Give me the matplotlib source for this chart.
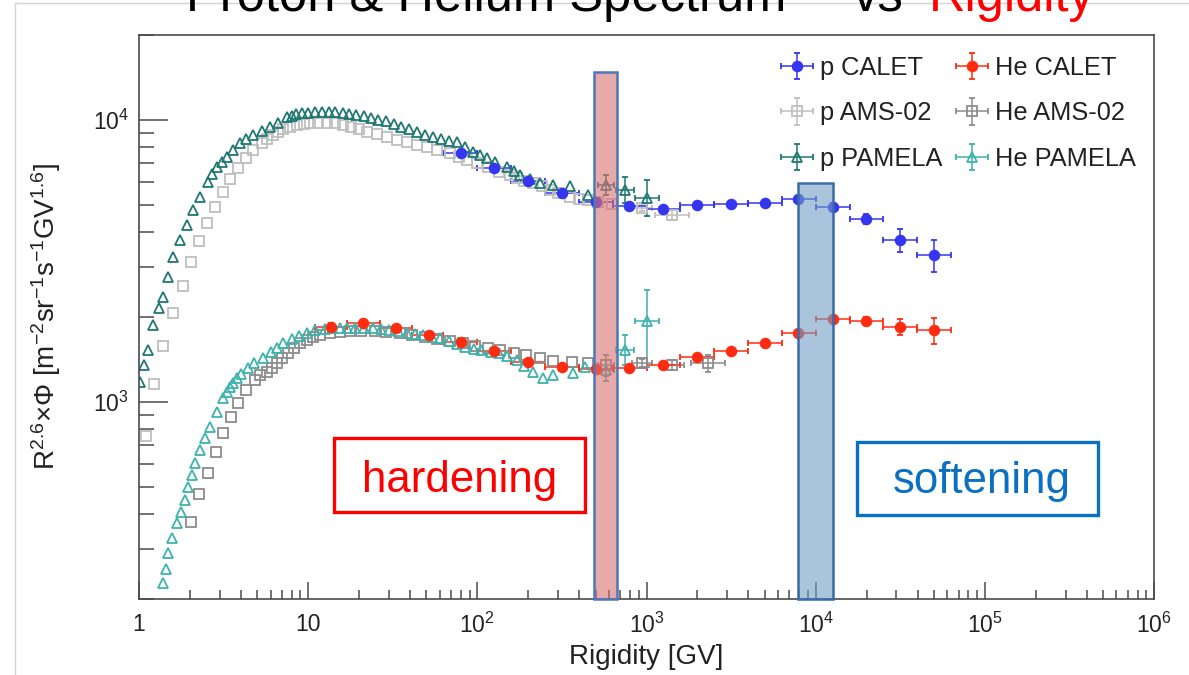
import numpy as np
import matplotlib
matplotlib.use('Agg')
import matplotlib.pyplot as plt
from matplotlib.patches import Rectangle
from matplotlib.lines import Line2D
from matplotlib.legend_handler import HandlerErrorbar
from matplotlib.ticker import FixedLocator, FixedFormatter, NullFormatter

plt.rcParams['font.family'] = ['Liberation Sans', 'DejaVu Sans']
plt.rcParams['mathtext.fontset'] = 'custom'
plt.rcParams['mathtext.rm'] = 'Liberation Sans'
plt.rcParams['mathtext.it'] = 'Liberation Sans:italic'
plt.rcParams['mathtext.bf'] = 'Liberation Sans:bold'

# ---- data (rigidity in GV, flux x R^2.6) ----
p_calet_edges = [63, 100, 158, 251, 398, 631, 1000, 1585, 2512, 3981, 6310,
                 10000, 15850, 25120, 39810, 63100]
p_calet_R = [80, 126, 200, 316, 505, 790, 1255, 1990, 3160, 5010, 7900,
             12600, 19900, 31500, 50400]
p_calet_F = [7612, 6734, 6057, 5493, 5103, 4939, 4820, 4980, 5020, 5061, 5229,
             4899, 4443, 3743, 3311]
p_calet_err = [80, 70, 60, 60, 60, 70, 80, 90, 100, 120, 140, 150, 170, 350, 430]

he_calet_edges = [11, 17, 26.6, 41, 63, 100, 158, 251, 398, 631, 1000, 1585,
                  2512, 3981, 6310, 10000, 15850, 25120, 39810, 63100]
he_calet_R = [13.6, 21.1, 33, 51.8, 80, 126, 200, 316, 505, 790, 1255, 1990,
              3160, 5010, 7900, 12600, 19900, 31500, 50400]
he_calet_F = [1841, 1902, 1825, 1724, 1628, 1513, 1383, 1328, 1306, 1317, 1350,
              1441, 1513, 1615, 1753, 1964, 1932, 1841, 1796]
he_calet_err = [60, 55, 45, 35, 30, 25, 25, 25, 25, 25, 30, 30, 35, 40, 45,
                55, 60, 120, 190]

p_ams_R = [1.10, 1.23, 1.39, 1.59, 1.82, 2.03, 2.27, 2.52, 2.81, 3.14, 3.45,
           3.85, 4.29, 4.72, 5.33, 5.7, 6.19, 6.6, 7.11, 7.8, 8.6, 9.4, 10.3,
           11.5, 12.9, 14.4, 16.1, 18.0, 20.0, 22.3, 25.5, 29.3, 33.5, 38.4,
           44, 50.4, 58, 69, 78, 87, 100, 115, 135, 155, 172, 190, 213, 240,
           269, 300, 352, 400, 452, 520, 626, 940, 1410]
p_ams_F = [756, 1156, 1576, 2063, 2572, 3129, 3712, 4300, 4897, 5536, 6157,
           6735, 7306, 7800, 8259, 8550, 8818, 9050, 9260, 9420, 9568, 9660,
           9724, 9750, 9724, 9700, 9568, 9420, 9250, 9036, 8880, 8677, 8500,
           8328, 8150, 7996, 7830, 7612, 7400, 7188, 7000, 6780, 6519, 6350,
           6206, 6080, 5960, 5800, 5628, 5480, 5317, 5230, 5188, 5100, 5020,
           4860, 4590]
p_ams_tail_xlo = [120, 291]
p_ams_tail_xhi = [137, 367]
p_ams_tail_yerr = [120, 190]

he_ams_R = [2.03, 2.26, 2.56, 2.85, 3.14, 3.50, 3.85, 4.29, 4.85, 5.2, 5.71,
            6.1, 6.54, 7.0, 7.59, 8.2, 8.93, 9.8, 10.7, 11.8, 13.5, 15.5, 17.7,
            20.5, 24.9, 29, 34.9, 41, 49, 58, 69, 82, 97, 115, 136, 165, 195,
            235, 280, 362, 450, 574, 937, 1410, 2300]
he_ams_F = [375, 471, 559, 664, 775, 883, 990, 1101, 1194, 1240, 1275, 1320,
            1372, 1430, 1488, 1550, 1615, 1660, 1696, 1720, 1752, 1770, 1782,
            1785, 1782, 1770, 1752, 1725, 1696, 1670, 1642, 1610, 1576, 1550,
            1525, 1495, 1464, 1430, 1394, 1383, 1370, 1350, 1372, 1350, 1372]
he_ams_tail_xlo = [60, 120, 215, 475]
he_ams_tail_xhi = [66, 137, 250, 600]
he_ams_tail_yerr = [115, 45, 55, 95]

p_pam_R = [1.01, 1.07, 1.13, 1.21, 1.31, 1.39, 1.48, 1.59, 1.75, 1.92, 2.09,
           2.29, 2.56, 2.7, 2.89, 3.1, 3.31, 3.6, 3.95, 4.3, 4.72, 5.3, 5.95,
           6.6, 7.49, 8.0, 8.5, 9.2, 10, 11, 12, 13.2, 14.5, 16, 17.5, 19.3,
           21.3, 23.5, 26, 28.8, 32, 35.5, 39.5, 44, 49, 54.6, 61, 68, 76, 85,
           94, 104, 114, 128, 149, 165, 179, 205, 234, 280, 352, 452, 577, 748,
           1006]
p_pam_F = [1175, 1350, 1526, 1870, 2148, 2350, 2767, 3258, 3742, 4230, 4780,
           5317, 6008, 6400, 6791, 7100, 7368, 7800, 8259, 8550, 8818, 9150,
           9413, 9750, 10210, 10300, 10450, 10520, 10580, 10630, 10650, 10650,
           10630, 10580, 10500, 10400, 10280, 10150, 10000, 9850, 9650, 9450,
           9300, 9050, 8850, 8677, 8550, 8420, 8328, 8000, 7674, 7500, 7306,
           7050, 6791, 6550, 6360, 6150, 5960, 5862, 5815, 5404, 5862, 5628,
           5272]
p_pam_tail_xlo = [60, 87, 152]
p_pam_tail_xhi = [66, 98, 179]
p_pam_tail_ylo = [460, 560, 720]
p_pam_tail_yhi = [500, 620, 830]

he_pam_R = [1.39, 1.44, 1.48, 1.57, 1.68, 1.77, 1.87, 1.95, 2.06, 2.14, 2.29,
            2.45, 2.63, 2.89, 3.14, 3.3, 3.45, 3.6, 3.79, 4.0, 4.41, 4.8, 5.41,
            6.0, 6.5, 7.11, 8.0, 8.8, 9.83, 11, 12.5, 13.8, 15.4, 17, 19, 21.5,
            24.2, 27, 30, 34, 38.4, 43, 48, 54, 60.2, 68, 76, 84.3, 95, 105,
            120, 135, 150, 171, 190, 214, 244, 280, 367, 433, 577, 746, 1007]
he_pam_F = [228, 255, 291, 329, 372, 407, 449, 499, 550, 607, 675, 744, 814,
            920, 1031, 1080, 1128, 1170, 1214, 1250, 1317, 1370, 1429, 1500,
            1550, 1615, 1670, 1710, 1752, 1790, 1810, 1820, 1825, 1830, 1830,
            1830, 1825, 1810, 1795, 1775, 1752, 1740, 1720, 1700, 1682, 1640,
            1600, 1563, 1540, 1520, 1500, 1488, 1450, 1406, 1340, 1275, 1214,
            1244, 1264, 1328, 1296, 1525, 1932]
he_pam_tail_xlo = [60, 87, 152]
he_pam_tail_xhi = [66, 98, 179]
he_pam_tail_ylo = [110, 175, 604]
he_pam_tail_yhi = [110, 200, 558]

labels = ['p CALET', 'p AMS-02', 'p PAMELA', 'He CALET', 'He AMS-02', 'He PAMELA']
x_ticks = [1, 10, 100, 1e3, 1e4, 1e5, 1e6]
x_ticklabels = ['1', '10', '$10^{2}$', '$10^{3}$', '$10^{4}$', '$10^{5}$', '$10^{6}$']
y_ticks = [1e3, 1e4]
y_ticklabels = ['$10^{3}$', '$10^{4}$']

# highlighted bands (GV range, top flux)
hard_band = (489, 668, 14740)
soft_band = (7850, 12640, 5960)


def padded(n, tail):
    return np.r_[np.full(n - len(tail), np.nan), np.array(tail, float)]


def calet_xerr(R, edges):
    R = np.array(R, float)
    e = np.array(edges, float)
    return [R - e[:-1], e[1:] - R]


fig = plt.figure(figsize=(11.89, 6.75), dpi=100)
ax = fig.add_axes([139 / 1189, 1 - 599 / 675, (1154 - 139) / 1189, (599 - 34.7) / 675])

ms = 7
kw = dict(linestyle='none', ms=ms, mew=1.3, elinewidth=1.1, capsize=2.5, capthick=1.1)

c_pC, c_heC = '#3535F2', '#FF2C12'
c_pA, c_heA = '#BEBEBE', '#8C8C8C'
c_pP, c_heP = '#1F7872', '#3EB2AC'

n = len(p_ams_R)
h_pA = ax.errorbar(p_ams_R, p_ams_F,
                   xerr=[padded(n, p_ams_tail_xlo), padded(n, p_ams_tail_xhi)],
                   yerr=[padded(n, p_ams_tail_yerr), padded(n, p_ams_tail_yerr)],
                   marker='s', mfc='none', mec=c_pA, color=c_pA, **kw)
n = len(he_ams_R)
h_heA = ax.errorbar(he_ams_R, he_ams_F,
                    xerr=[padded(n, he_ams_tail_xlo), padded(n, he_ams_tail_xhi)],
                    yerr=[padded(n, he_ams_tail_yerr), padded(n, he_ams_tail_yerr)],
                    marker='s', mfc='none', mec=c_heA, color=c_heA, **kw)
n = len(p_pam_R)
h_pP = ax.errorbar(p_pam_R, p_pam_F,
                   xerr=[padded(n, p_pam_tail_xlo), padded(n, p_pam_tail_xhi)],
                   yerr=[padded(n, p_pam_tail_ylo), padded(n, p_pam_tail_yhi)],
                   marker='^', mfc='none', mec=c_pP, color=c_pP, **kw)
n = len(he_pam_R)
h_heP = ax.errorbar(he_pam_R, he_pam_F,
                    xerr=[padded(n, he_pam_tail_xlo), padded(n, he_pam_tail_xhi)],
                    yerr=[padded(n, he_pam_tail_ylo), padded(n, he_pam_tail_yhi)],
                    marker='^', mfc='none', mec=c_heP, color=c_heP, **kw)
h_pC = ax.errorbar(p_calet_R, p_calet_F, xerr=calet_xerr(p_calet_R, p_calet_edges),
                   yerr=p_calet_err, marker='o', mfc=c_pC, mec=c_pC, color=c_pC, **kw)
h_heC = ax.errorbar(he_calet_R, he_calet_F, xerr=calet_xerr(he_calet_R, he_calet_edges),
                    yerr=he_calet_err, marker='o', mfc=c_heC, mec=c_heC, color=c_heC, **kw)

ax.set_xscale('log')
ax.set_yscale('log')
ax.set_xlim(1, 1e6)
ax.set_ylim(200, 20000)

ax.xaxis.set_major_locator(FixedLocator(x_ticks))
ax.xaxis.set_major_formatter(FixedFormatter(x_ticklabels))
ax.xaxis.set_minor_locator(FixedLocator([m * 10 ** d for d in range(6) for m in range(2, 10)]))
ax.xaxis.set_minor_formatter(NullFormatter())
ax.yaxis.set_major_locator(FixedLocator(y_ticks))
ax.yaxis.set_major_formatter(FixedFormatter(y_ticklabels))
ax.yaxis.set_minor_locator(FixedLocator([m * 10 ** d for d in (2, 3, 4) for m in range(2, 10)]))
ax.yaxis.set_minor_formatter(NullFormatter())

axis_col = '#4a4a4a'
for s in ax.spines.values():
    s.set_color(axis_col)
    s.set_linewidth(1.2)
ax.tick_params(axis='x', which='major', direction='in', length=12, width=1.1,
               color=axis_col, labelsize=16.5, pad=10, top=False)
ax.tick_params(axis='x', which='minor', direction='in', length=6.5, width=1.1,
               color=axis_col, top=False)
ax.tick_params(axis='y', which='major', direction='in', length=21, width=1.1,
               color=axis_col, labelsize=16.5, pad=7, right=False)
ax.tick_params(axis='y', which='minor', direction='in', length=10.5, width=1.1,
               color=axis_col, right=False)
for t in ax.get_xticklabels() + ax.get_yticklabels():
    t.set_color('#222222')

ax.set_xlabel('Rigidity [GV]', fontsize=20, color='#222222', labelpad=4)
ax.set_ylabel(r'R$^{2.6}$$\times$$\Phi$ [m$^{-2}$sr$^{-1}$s$^{-1}$GV$^{1.6}$]',
              fontsize=20, color='#222222', labelpad=22)

# bands
for (x0, x1, top), face, edge in [(hard_band, (0.85, 0.44, 0.44, 0.6), '#4A78B8'),
                                  (soft_band, (0.44, 0.615, 0.765, 0.6), '#3A6AAA')]:
    ax.add_patch(Rectangle((x0, 200), x1 - x0, top - 200, facecolor=face,
                           edgecolor=edge, linewidth=1.8, zorder=5, clip_on=False))

# legend
handles = [h_pC, h_pA, h_pP, h_heC, h_heA, h_heP]
leg = fig.legend(handles, labels, ncol=2, loc='upper left',
                 bbox_to_anchor=(781 / 1189, 1 - 56 / 675), frameon=False,
                 fontsize=18.3, borderpad=0, borderaxespad=0, handlelength=1.25,
                 handletextpad=0.28, columnspacing=0.55, labelspacing=0.84,
                 handler_map={type(h_pC): HandlerErrorbar(xerr_size=0.62, yerr_size=0.52)})
for t in leg.get_texts():
    t.set_color('#222222')

# annotation boxes
for (x0, y0, x1, y1), txt, col, tx, ty in [((334, 438, 585, 512), 'hardening', '#FF0000', 459.5, 492),
                                           ((857, 442, 1098, 515), 'softening', '#0B6FC2', 981.5, 493)]:
    fig.add_artist(Rectangle((x0 / 1189, 1 - y1 / 675), (x1 - x0) / 1189, (y1 - y0) / 675,
                             transform=fig.transFigure, facecolor='white',
                             edgecolor=col, linewidth=2.4, zorder=6))
    fig.text(tx / 1189, 1 - ty / 675, txt, color=col, fontsize=31.5,
             ha='center', va='baseline', zorder=7)

# title, partly cut by the top of the picture
ty = 1 - 11.5 / 675
fig.text(186 / 1189, ty, 'Proton & Helium Spectrum', fontsize=36.5,
         color='black', ha='left', va='baseline')
fig.text(853 / 1189, ty, 'vs', fontsize=36.5, color='black', ha='left', va='baseline')
fig.text(929 / 1189, ty, 'Rigidity', fontsize=36.5, color='#FF0000',
         ha='left', va='baseline')

# slide frame
fig.add_artist(Line2D([15 / 1189, 15 / 1189], [0, 1 - 3 / 675], transform=fig.transFigure,
                      color='#D4D4D4', linewidth=1))
fig.add_artist(Line2D([15 / 1189, 1], [1 - 3 / 675, 1 - 3 / 675], transform=fig.transFigure,
                      color='#D4D4D4', linewidth=1))

fig.savefig('out.png', dpi=100)
